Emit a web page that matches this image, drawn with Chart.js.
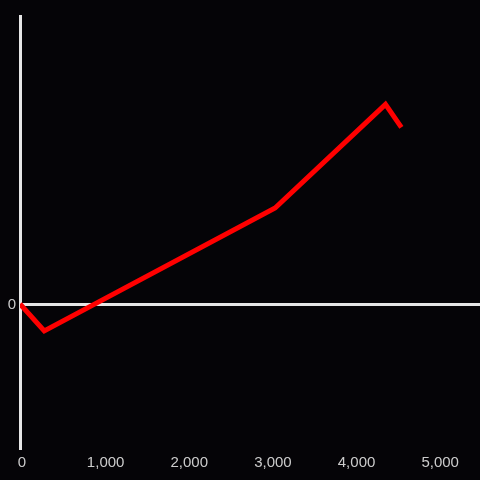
<!DOCTYPE html>
<html>
<head>
<meta charset="utf-8">
<script src="https://cdn.jsdelivr.net/npm/chart.js"></script>
<style>
    html, body { margin: 0; padding: 0; background: #050407; }
    #wrap { width: 480px; height: 480px; }
</style>
</head>
<body>
<div id="wrap"><canvas id="chart"></canvas></div>
<script>
    // data
    const xValues = [0, 290, 3050, 4370, 4560];
    const yValues = [0, -0.28, 1.0, 2.08, 1.84];
    const xTicks = [0, 1000, 2000, 3000, 4000, 5000];

    const pts = xValues.map((x, i) => ({ x: x, y: yValues[i] }));

    new Chart(document.getElementById('chart'), {
        type: 'line',
        data: {
            datasets: [{
                data: pts,
                borderColor: '#ff0000',
                borderWidth: 5,
                pointRadius: 0,
                tension: 0,
                fill: false
            }]
        },
        options: {
            responsive: true,
            maintainAspectRatio: false,
            animation: false,
            layout: { padding: { top: 16, right: 0, left: 0, bottom: 0 } },
            plugins: { legend: { display: false }, tooltip: { enabled: false } },
            scales: {
                x: {
                    type: 'linear',
                    min: 0,
                    max: 5500,
                    afterFit: s => { s.height = 32; },
                    afterBuildTicks: s => {
                        s.ticks = xTicks.map(v => ({ value: v }));
                    },
                    grid: { display: false, drawTicks: false },
                    border: { display: false },
                    ticks: {
                        color: '#cccccc',
                        font: { family: 'Liberation Sans', size: 15 },
                        padding: 6,
                        labelOffset: 2,
                        maxRotation: 0
                    }
                },
                y: {
                    min: -1.5,
                    max: 3,
                    afterFit: s => { s.width = 20; },
                    afterBuildTicks: s => { s.ticks = [{ value: 0 }]; },
                    grid: { color: '#e6e6e6', lineWidth: 3, drawTicks: false },
                    border: { display: true, color: '#e6e6e6', width: 3 },
                    ticks: {
                        color: '#cccccc',
                        font: { family: 'Liberation Sans', size: 15 },
                        padding: 4,
                        labelOffset: 1
                    }
                }
            }
        }
    });
</script>
</body>
</html>
